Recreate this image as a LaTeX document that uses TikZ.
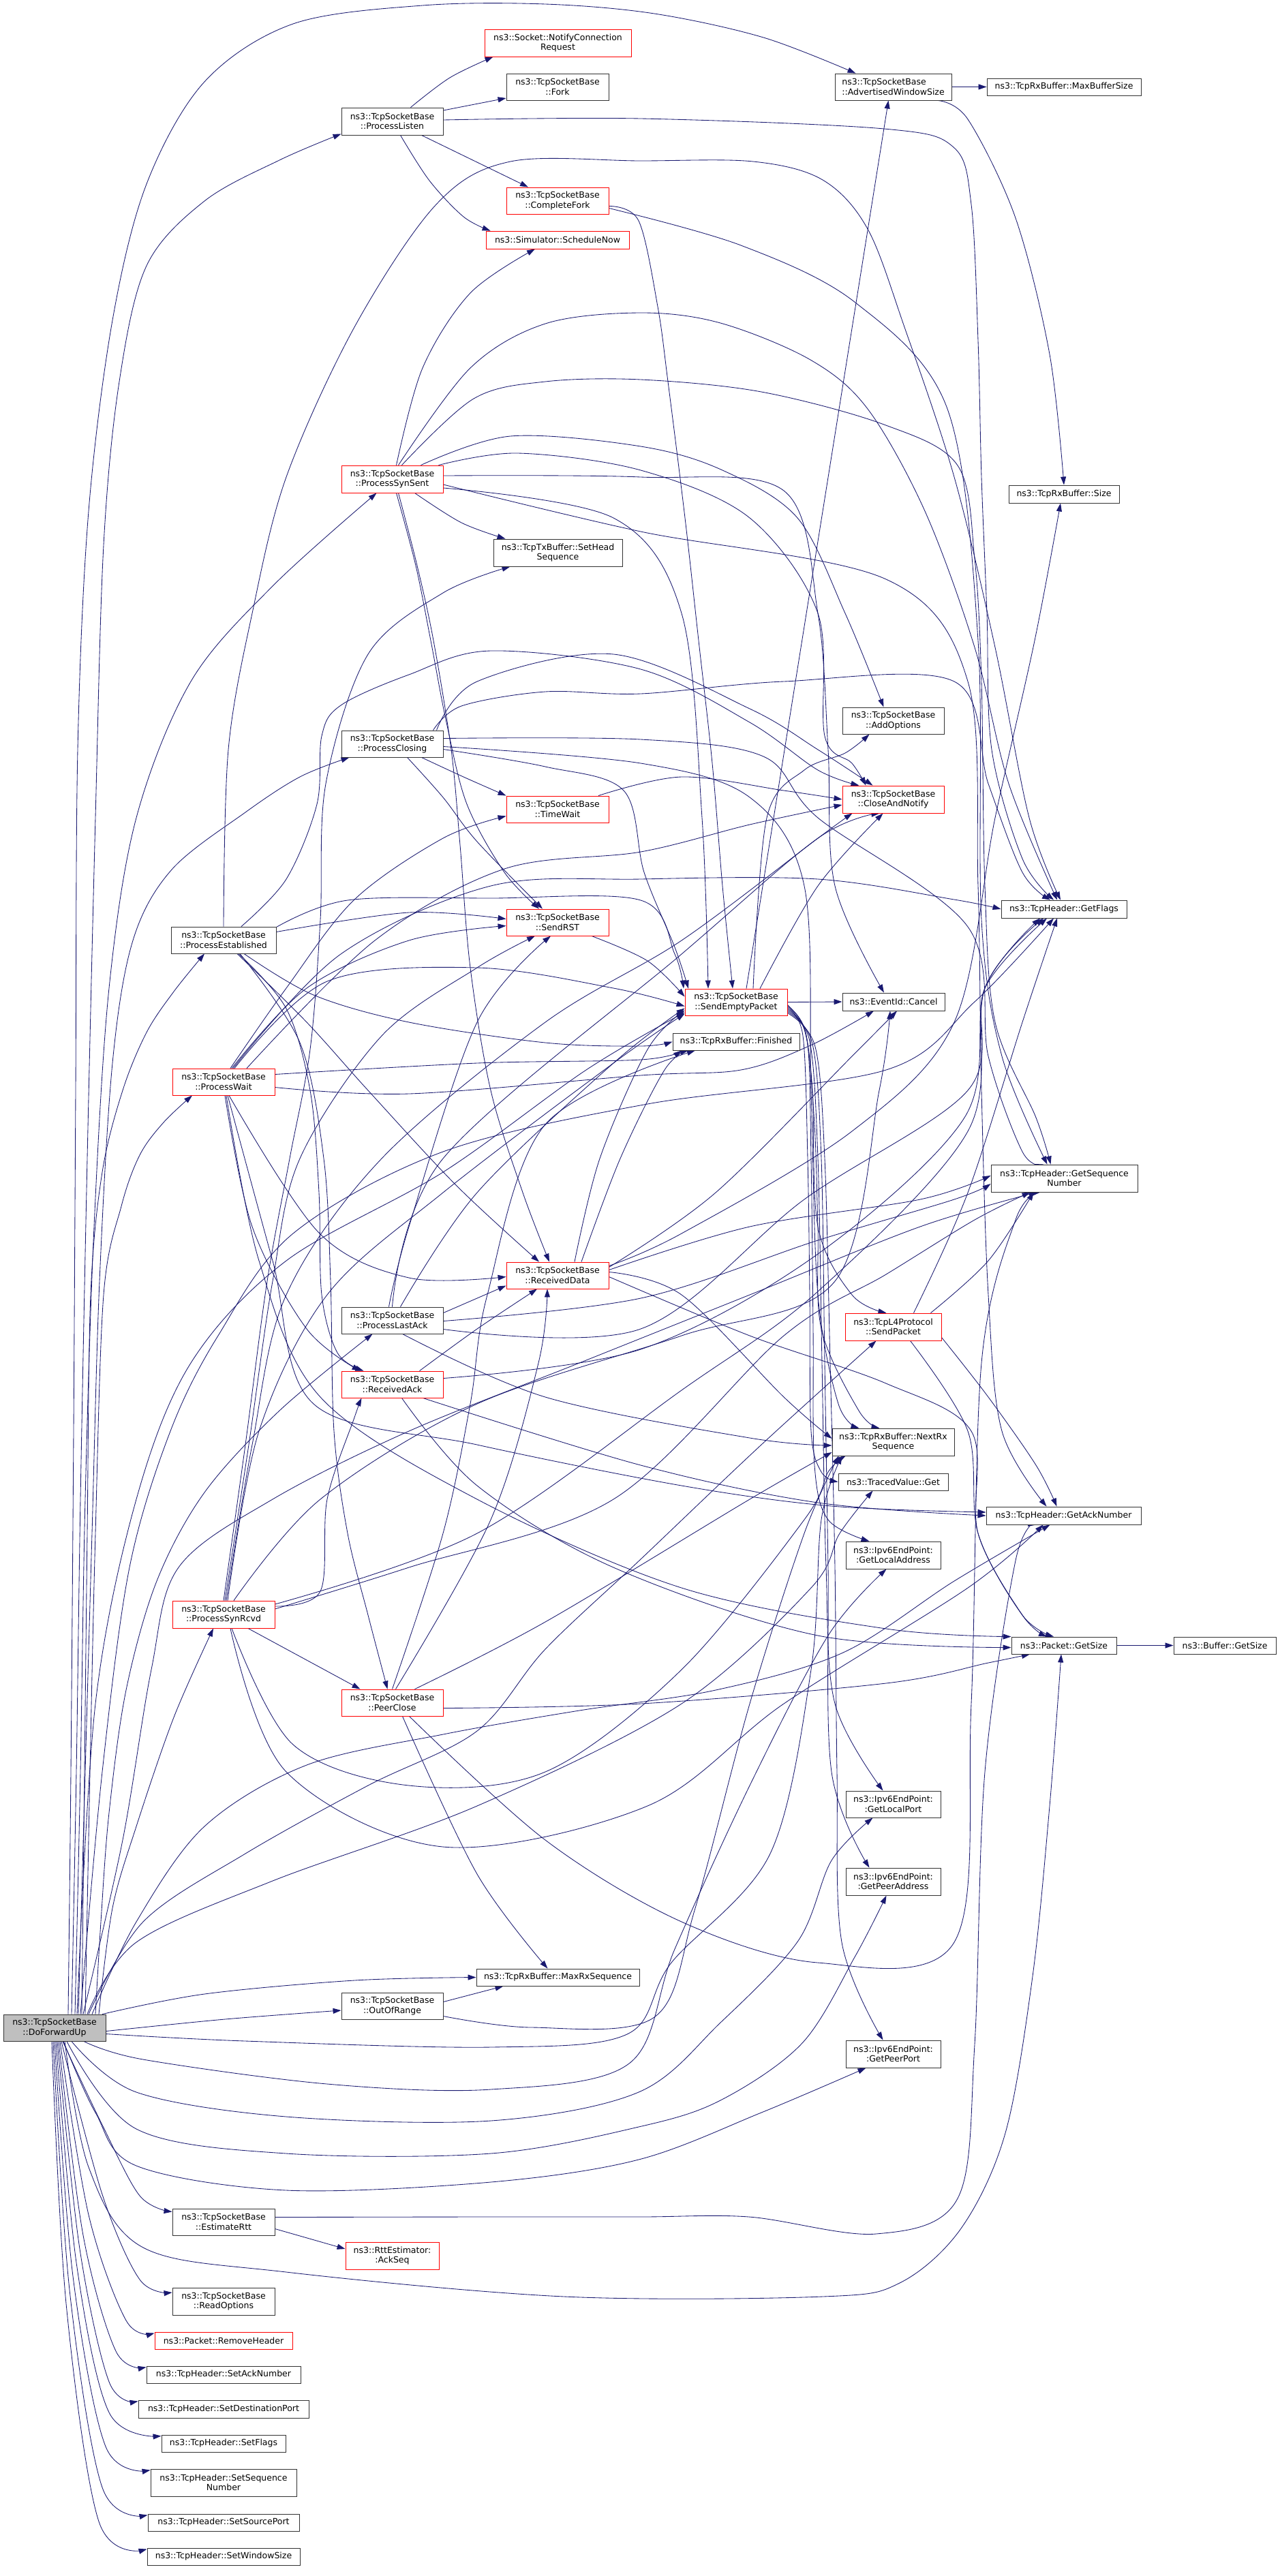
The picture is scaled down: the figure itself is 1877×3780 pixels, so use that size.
\documentclass[tikz,border=0pt]{standalone}
\usepackage{fontspec}
\setmainfont{DejaVu Sans}
\usetikzlibrary{arrows.meta}
\definecolor{edgeblue}{HTML}{191970}
\definecolor{nodegray}{HTML}{BFBFBF}
\pgfdeclarelayer{bgl}
\pgfsetlayers{bgl,main}
\newcommand\nodefnt{\fontsize{12.5}{14.5}\selectfont}
\tikzset{
  nb/.style={draw=black!80, line width=0.9pt, fill=white, inner sep=0pt, align=center, font=\nodefnt},
  nr/.style={nb, draw=red},
  ng/.style={nb, fill=nodegray},
  edg/.style={draw=edgeblue, line width=0.85pt, -{Triangle[length=12pt,width=8pt]}},
}
\newcommand\mk[7]{\node[#1, minimum width=#5pt, minimum height=#6pt] (#2) at (#3,#4) {#7};}
\newcommand\cedge[1]{\draw[edg] plot[smooth,tension=0.55] coordinates {#1};}
\begin{document}
\begin{tikzpicture}[x=1pt,y=-1pt]
\useasboundingbox (0,0) rectangle (1877,3780);
\mk{ng}{dfu}{80}{2975.5}{150}{39}{ns3::TcpSocketBase\\::DoForwardUp}
\mk{nb}{plisten}{575.5}{178}{149}{40}{ns3::TcpSocketBase\\::ProcessListen}
\mk{nr}{notify}{818.5}{63}{215}{40}{ns3::Socket::NotifyConnection\\Request}
\mk{nb}{fork}{818}{127.5}{150}{39}{ns3::TcpSocketBase\\::Fork}
\mk{nr}{cfork}{818}{294.5}{150}{39}{ns3::TcpSocketBase\\::CompleteFork}
\mk{nr}{sched}{818}{352}{210}{26}{ns3::Simulator::ScheduleNow}
\mk{nb,align=left}{aws}{1310.5}{127.5}{171}{39}{ns3::TcpSocketBase\\::AdvertisedWindowSize}
\mk{nb}{maxbuf}{1561}{127.5}{226}{25}{ns3::TcpRxBuffer::MaxBufferSize}
\mk{nr}{pss}{575.5}{703}{149}{40}{ns3::TcpSocketBase\\::ProcessSynSent}
\mk{nb}{sethead}{818.5}{811}{189}{40}{ns3::TcpTxBuffer::SetHead\\Sequence}
\mk{nb}{rxsize}{1561}{725}{162}{26}{ns3::TcpRxBuffer::Size}
\mk{nb}{pclosing}{575.5}{1091.5}{149}{39}{ns3::TcpSocketBase\\::ProcessClosing}
\mk{nr}{timewait}{818}{1187.5}{150}{39}{ns3::TcpSocketBase\\::TimeWait}
\mk{nb}{addopt}{1310.5}{1057.5}{149}{39}{ns3::TcpSocketBase\\::AddOptions}
\mk{nr}{cnotify}{1310.5}{1173}{149}{40}{ns3::TcpSocketBase\\::CloseAndNotify}
\mk{nb}{getflags}{1561}{1334}{184}{26}{ns3::TcpHeader::GetFlags}
\mk{nr}{sendrst}{818}{1353.5}{150}{39}{ns3::TcpSocketBase\\::SendRST}
\mk{nb}{pest}{328}{1379.5}{154}{39}{ns3::TcpSocketBase\\::ProcessEstablished}
\mk{nr}{sep}{1080}{1470.5}{150}{39}{ns3::TcpSocketBase\\::SendEmptyPacket}
\mk{nb}{cancel}{1311}{1470}{150}{26}{ns3::EventId::Cancel}
\mk{nb}{finished}{1080}{1528.5}{186}{25}{ns3::TcpRxBuffer::Finished}
\mk{nr}{pwait}{328}{1587.5}{150}{39}{ns3::TcpSocketBase\\::ProcessWait}
\mk{nb}{getseq}{1561.5}{1729}{215}{40}{ns3::TcpHeader::GetSequence\\Number}
\mk{nr}{rdata}{818}{1871.5}{150}{39}{ns3::TcpSocketBase\\::ReceivedData}
\mk{nb}{plastack}{575.5}{1937.5}{149}{39}{ns3::TcpSocketBase\\::ProcessLastAck}
\mk{nr}{l4send}{1310.5}{1947}{141}{40}{ns3::TcpL4Protocol\\::SendPacket}
\mk{nr}{rack}{575.5}{2031.5}{149}{39}{ns3::TcpSocketBase\\::ReceivedAck}
\mk{nb}{nextrx}{1310.5}{2116}{179}{40}{ns3::TcpRxBuffer::NextRx\\Sequence}
\mk{nb}{tvget}{1310.5}{2174.5}{161}{25}{ns3::TracedValue::Get}
\mk{nb}{getack}{1560.5}{2224}{227}{26}{ns3::TcpHeader::GetAckNumber}
\mk{nb}{glocaddr}{1310.5}{2282}{139}{40}{ns3::Ipv6EndPoint:\\:GetLocalAddress}
\mk{nr}{psynrcvd}{328}{2369}{150}{40}{ns3::TcpSocketBase\\::ProcessSynRcvd}
\mk{nb}{pgetsize}{1561}{2414.5}{154}{25}{ns3::Packet::GetSize}
\mk{nb}{bgetsize}{1797}{2414.5}{150}{25}{ns3::Buffer::GetSize}
\mk{nr}{peerclose}{575.5}{2498.5}{149}{39}{ns3::TcpSocketBase\\::PeerClose}
\mk{nb}{glocport}{1310.5}{2647.5}{139}{39}{ns3::Ipv6EndPoint:\\:GetLocalPort}
\mk{nb}{gpeeraddr}{1310.5}{2761}{139}{40}{ns3::Ipv6EndPoint:\\:GetPeerAddress}
\mk{nb}{maxrx}{818.5}{2901.5}{239}{25}{ns3::TcpRxBuffer::MaxRxSequence}
\mk{nb}{oor}{575.5}{2943.5}{149}{39}{ns3::TcpSocketBase\\::OutOfRange}
\mk{nb}{gpeerport}{1310.5}{3014}{139}{40}{ns3::Ipv6EndPoint:\\:GetPeerPort}
\mk{nb}{ertt}{328}{3260.5}{150}{39}{ns3::TcpSocketBase\\::EstimateRtt}
\mk{nr}{ackseq}{575.5}{3310}{137}{40}{ns3::RttEstimator:\\:AckSeq}
\mk{nb}{readopt}{328}{3377}{150}{40}{ns3::TcpSocketBase\\::ReadOptions}
\mk{nr}{rmhdr}{328}{3434.5}{202}{25}{ns3::Packet::RemoveHeader}
\mk{nb}{setack}{328}{3484.5}{226}{25}{ns3::TcpHeader::SetAckNumber}
\mk{nb}{setdst}{328}{3535}{250}{26}{ns3::TcpHeader::SetDestinationPort}
\mk{nb}{setflags}{328}{3585.5}{182}{25}{ns3::TcpHeader::SetFlags}
\mk{nb}{setseq}{328}{3643}{214}{40}{ns3::TcpHeader::SetSequence\\Number}
\mk{nb}{setsrc}{328}{3701.5}{222}{25}{ns3::TcpHeader::SetSourcePort}
\mk{nb}{setwin}{328}{3751.5}{224}{25}{ns3::TcpHeader::SetWindowSize}
\begin{pgfonlayer}{bgl}
% DoForwardUp
\cedge{([xshift=20pt]dfu.north) (104,2600) (108,2100) (111,1600) (114,1100) (130,750) (165,470) (215,270) (300,120) (430,35) (620,8) (800,6) (960,20) (1120,55) ([xshift=-55pt]aws.north)}
\cedge{([xshift=25pt]dfu.north) (112,2600) (118,2200) (128,1700) (140,1200) (152,800) (175,560) (215,390) (300,295) (410,235) ([yshift=2pt]plisten.south west)}
\cedge{([xshift=30pt]dfu.north) (118,2600) (125,2200) (138,1800) (160,1450) (200,1200) (280,1000) (400,860) ([xshift=-23pt]pss.south)}
\cedge{([xshift=35pt]dfu.north) (125,2600) (135,2250) (146,1880) (165,1560) (195,1380) (252,1276) (360,1192) (440,1140) ([xshift=-63pt]pclosing.south)}
\cedge{([xshift=40pt]dfu.north) (124,2600) (128,2250) (133,1900) (150,1720) (180,1600) (215,1515) (255,1455) ([xshift=-28pt]pest.south)}
\cedge{([xshift=45pt]dfu.north) (132,2600) (140,2250) (152,1900) (178,1770) (205,1695) (240,1647) ([xshift=-46pt]pwait.south)}
\cedge{([xshift=60pt]dfu.north) (148,2820) (160,2660) (185,2480) (230,2320) (300,2190) (410,2070) ([xshift=-29pt]plastack.south)}
\cedge{([xshift=65pt]dfu.north) (165,2800) (200,2680) (255,2520) ([xshift=-15pt]psynrcvd.south)}
\cedge{([xshift=70pt]dfu.north) (300,2926) (520,2906) (maxrx.west)}
\cedge{([yshift=-5pt]dfu.east) (330,2963) ([yshift=-6.5pt]oor.west)}
\cedge{([xshift=55pt]dfu.north) (200,2820) (300,2680) (450,2590) (650,2545) (850,2510) (1050,2480) (1237,2425) (1400,2320) ([xshift=-20pt]getack.south)}
\cedge{([xshift=50pt]dfu.north) (210,2820) (360,2720) (540,2620) (700,2540) (800,2420) (940,2288) (1117,2120) ([xshift=-25pt]l4send.south)}
\cedge{([xshift=48pt]dfu.north) (200,2850) (400,2760) (700,2650) (1000,2500) (1190,2330) (1232,2250) ([xshift=-30pt]tvget.south)}
\cedge{([xshift=42pt]dfu.north) (180,2700) (222,2450) (262,2300) (400,2200) (600,2100) (850,2000) (1100,1900) (1350,1800) ([xshift=-40pt]getseq.south)}
\cedge{([xshift=38pt]dfu.north) (150,2600) (190,2300) (250,2100) (320,1960) (430,1810) (650,1690) (950,1620) (1300,1570) (1430,1470) ([xshift=-15pt]getflags.south)}
\cedge{([xshift=33pt]dfu.north) (140,2500) (200,2200) (280,2000) (420,1850) (650,1720) (860,1570) ([yshift=-15pt]sep.west)}
\cedge{([yshift=-9pt]dfu.east) (360,2995) (720,3004) (920,2985) (985,2880) (1130,2720) (1190,2450) (1205,2230) ([xshift=-75pt]nextrx.south)}
\cedge{([xshift=43pt]dfu.south) (210,3022) (480,3058) (720,3066) (923,3028) (990,2860) (1100,2620) (1215,2400) ([xshift=-10pt]glocaddr.south)}
\cedge{([xshift=25pt]dfu.south) (200,3070) (420,3106) (720,3112) (937,3070) (1057,2968) (1171,2848) (1220,2730) ([xshift=-30pt]glocport.south)}
\cedge{([xshift=18pt]dfu.south) (200,3124) (420,3160) (720,3160) (937,3121) (1057,3082) (1177,2998) (1255,2870) ([xshift=-10pt]gpeeraddr.south)}
\cedge{([xshift=13pt]dfu.south) (140,3100) (200,3178) (420,3214) (720,3202) (937,3169) (1117,3100) ([xshift=-40pt]gpeerport.south)}
\cedge{([xshift=15pt]dfu.south) (130,3180) (210,3298) (420,3334) (828,3370) (1207,3370) (1320,3350) (1410,3270) (1475,3130) (1515,2900) (1540,2650) ([xshift=-4pt]pgetsize.south)}
\cedge{([xshift=12pt]dfu.south) (150,3118) (205,3222) ([yshift=15pt]ertt.west)}
\cedge{([xshift=10pt]dfu.south) (150,3220) (205,3345) ([yshift=13pt]readopt.west)}
\cedge{([xshift=8pt]dfu.south) (130,3250) (185,3405) ([yshift=-2pt]rmhdr.north west)}
\cedge{([xshift=6pt]dfu.south) (122,3280) (170,3450) ([yshift=-2pt]setack.north west)}
\cedge{([xshift=4pt]dfu.south) (117,3300) (160,3495) ([yshift=-2pt]setdst.north west)}
\cedge{([xshift=2pt]dfu.south) (112,3320) (160,3540) ([yshift=-2pt]setflags.north west)}
\cedge{(dfu.south) (107,3340) (155,3590) ([yshift=-2pt]setseq.north west)}
\cedge{([xshift=-2pt]dfu.south) (102,3360) (150,3650) ([yshift=-2pt]setsrc.north west)}
\cedge{([xshift=-4pt]dfu.south) (97,3380) (145,3700) ([yshift=-2pt]setwin.north west)}
% ProcessListen
\cedge{([xshift=27pt]plisten.north) (660,114) ([xshift=-95pt]notify.south)}
\draw[edg] ([yshift=16pt]plisten.east) -- ([yshift=-16.5pt]fork.west);
\cedge{([yshift=2pt]plisten.east) (940,174) (1297,189) (1399,216) (1425,300) (1435,500) (1440,700) (1448,900) (1455,1100) (1500,1260) ([xshift=-15pt]getflags.north)}
\draw[edg] ([xshift=43pt]plisten.south) -- ([xshift=-43pt]cfork.north);
\cedge{([xshift=12pt]plisten.south) (630,265) (680,318) ([xshift=7pt]sched.north west)}
% CompleteFork
\cedge{([yshift=-8pt]cfork.east) (937,324) (965,450) (980,560) (1005,760) (1025,940) (1045,1120) (1060,1300) ([xshift=-5pt]sep.north)}
\cedge{([yshift=-11pt]cfork.east) (1087,360) (1255,444) (1390,600) (1435,940) (1440,1350) (1470,1550) ([xshift=-25pt]getseq.north)}
% AdvertisedWindowSize
\draw[edg] (aws.east) -- (maxbuf.west);
\cedge{([xshift=65pt]aws.south) (1420,175) (1490,320) (1540,520) (rxsize.north)}
% ProcessSynSent
\cedge{([xshift=6pt]pss.north) (620,540) (690,430) ([xshift=-33pt]sched.south)}
\cedge{([xshift=9pt]pss.north) (690,540) (800,475) (940,459) (1057,474) (1189,528) (1273,600) (1357,750) (1430,950) (1480,1150) ([xshift=-10pt]getflags.north)}
\cedge{([xshift=14pt]pss.north) (695,585) (800,560) (940,557) (1117,575) (1297,623) (1405,683) (1430,820) (1440,1000) (1445,1300) (1460,1500) (1520,1640) ([xshift=-20pt]getseq.north)}
\cedge{([xshift=42pt]pss.north) (749,640) (940,655) (1060,690) (1170,760) (1240,900) ([xshift=-14pt]addopt.north)}
\cedge{([xshift=68pt]pss.north) (760,665) (940,690) (1100,760) (1200,900) (1210,1080) (1250,1120) ([xshift=-40pt]cnotify.north)}
\cedge{([yshift=5pt]pss.east) (940,700) (1150,720) (1200,900) (1215,1100) (1225,1300) ([xshift=-14pt]cancel.north)}
\cedge{([yshift=-13pt]pss.east) (900,760) (1000,900) (1030,1200) ([xshift=-41pt]sep.north)}
\cedge{([xshift=33pt]pss.south) (677,767) ([xshift=-77pt]sethead.north)}
\cedge{([xshift=6pt]pss.south) (610,830) (632,940) (655,1060) (685,1180) (740,1280) ([xshift=-27pt]sendrst.north)}
\cedge{([xshift=9pt]pss.south) (612,830) (636,940) (662,1100) (675,1240) (690,1420) (720,1600) (767,1750) ([xshift=-12pt]rdata.north)}
\cedge{([yshift=-8pt]pss.east) (940,780) (1300,850) (1420,1000) (1435,1300) (1440,1600) (1450,1900) (1470,2100) ([xshift=-25pt]getack.north)}
% ProcessClosing
\cedge{([xshift=60pt]pclosing.north) (677,1036) (800,1015) (940,1018) (1150,1000) (1400,1000) (1450,1150) (1500,1280) ([xshift=-20pt]getflags.north)}
\cedge{([yshift=8pt]pclosing.east) (940,1085) (1120,1110) (1200,1200) (1420,1360) (1450,1550) (1500,1690) ([xshift=-30pt]getseq.north)}
\cedge{([yshift=-4pt]pclosing.east) (940,1120) (1100,1170) (1180,1300) (1190,1600) (1200,1900) (1230,2060) ([xshift=-50pt]nextrx.north)}
\cedge{([xshift=65pt]pclosing.north) (700,1000) (900,960) (1100,1040) (1200,1100) ([xshift=-30pt]cnotify.north)}
\cedge{([yshift=-8pt]pclosing.east) (800,1125) (915,1160) (945,1280) (990,1390) ([xshift=-70pt]sep.north)}
\cedge{([xshift=43pt]pclosing.south) (680,1140) (timewait.north west)}
\cedge{([xshift=22pt]pclosing.south) (650,1170) (700,1235) ([xshift=-22pt]sendrst.north)}
% TimeWait, SendRST
\cedge{([xshift=60pt]timewait.north) (1000,1140) (1150,1160) (cnotify.west)}
\cedge{([xshift=50pt]sendrst.south) (950,1410) ([yshift=8pt]sep.west)}
% ProcessEstablished
\cedge{(pest.north) (335,1100) (370,900) (420,700) (520,480) (640,300) (749,237) (940,236) (1105,237) (1207,264) (1273,336) (1327,480) (1400,700) (1460,950) (1510,1200) ([xshift=-5pt]getflags.north)}
\cedge{([xshift=26pt]pest.north) (420,1290) (465,1180) (472,1080) (500,1035) (600,990) (720,955) (940,982) (1100,1060) (1200,1130) ([xshift=-50pt]cnotify.north)}
\cedge{([yshift=12pt]pest.east) (600,1339) ([yshift=5pt]sendrst.west)}
\cedge{([yshift=19pt]pest.east) (510,1321) (720,1318) (940,1321) (990,1400) ([xshift=-77pt]sep.north)}
\cedge{([xshift=20pt]pest.south) (450,1500) (540,1600) (670,1740) ([xshift=-27pt]rdata.north)}
\cedge{([xshift=22pt]pest.south) (420,1480) (455,1600) (468,1750) (472,1900) (495,1985) ([xshift=-42pt]rack.north)}
\cedge{([xshift=24pt]pest.south) (440,1530) (475,1700) (485,1880) (490,2100) (510,2250) (540,2370) ([xshift=-7pt]peerclose.north)}
\cedge{([xshift=30pt]pest.south) (460,1460) (600,1500) (800,1530) (940,1535) (finished.west)}
% ProcessWait
\cedge{([xshift=10pt]pwait.north) (420,1450) (520,1320) (650,1230) ([yshift=-10pt]timewait.west)}
\cedge{([xshift=12pt]pwait.north) (450,1450) (600,1380) ([yshift=-5pt]sendrst.west)}
\cedge{([xshift=34pt]pwait.north) (550,1380) (740,1275) (940,1250) (1100,1210) ([yshift=-8pt]cnotify.west)}
\cedge{([xshift=14pt]pwait.north) (500,1400) (720,1300) (940,1290) (1200,1290) (1400,1320) (getflags.west)}
\cedge{([xshift=16pt]pwait.north) (480,1440) (700,1420) (900,1450) ([yshift=-6pt]sep.west)}
\cedge{([yshift=11pt]pwait.east) (700,1560) (940,1555) ([xshift=-80pt]finished.south)}
\cedge{([yshift=-8pt]pwait.east) (600,1605) (940,1578) (1087,1570) (1189,1534) ([xshift=-29pt]cancel.south)}
\cedge{([xshift=2pt]pwait.south) (370,1800) (450,1950) ([xshift=-47pt]rack.north)}
\cedge{([xshift=8pt]pwait.south) (468,1809) (600,1875) ([yshift=-2pt]rdata.west)}
\cedge{([xshift=4pt]pwait.south) (380,1850) (470,2050) (700,2200) (1000,2330) (1300,2390) (pgetsize.north west)}
\cedge{([xshift=6pt]pwait.south) (400,1850) (460,2060) (700,2120) (1000,2180) (1220,2210) ([yshift=5pt]getack.west)}
% SendEmptyPacket
\draw[edg] ([xshift=15pt]sep.north) -- ([xshift=-7pt]aws.south);
\cedge{([xshift=25pt]sep.north) (1125,1200) (1180,1130) (1240,1105) ([xshift=-35pt]addopt.south)}
\cedge{([xshift=35pt]sep.north) (1200,1300) ([xshift=-15pt]cnotify.south)}
\draw[edg] (sep.east) -- (cancel.west);
\cedge{([yshift=-4pt]sep.east) (1180,1510) (1192,1600) (1200,1800) (1250,1900) ([xshift=-10pt]l4send.north)}
\cedge{([yshift=-6pt]sep.east) (1182,1515) (1195,1650) (1200,1800) (1205,1950) (1260,2070) ([xshift=-20pt]nextrx.north)}
\cedge{([yshift=-8pt]sep.east) (1178,1520) (1185,1700) (1188,1900) (1190,2100) (1205,2160) (tvget.west)}
\cedge{([yshift=-10pt]sep.east) (1184,1525) (1190,1700) (1193,1950) (1195,2150) (1215,2230) ([xshift=-35pt]glocaddr.north)}
\cedge{([yshift=-12pt]sep.east) (1188,1528) (1200,1700) (1206,2000) (1212,2300) (1225,2500) ([xshift=-15pt]glocport.north)}
\cedge{([yshift=-14pt]sep.east) (1192,1532) (1205,1700) (1210,2000) (1215,2300) (1220,2600) ([xshift=-35pt]gpeeraddr.north)}
\cedge{([yshift=-16pt]sep.east) (1196,1536) (1210,1700) (1218,2000) (1225,2300) (1228,2600) (1235,2850) ([xshift=-15pt]gpeerport.north)}
% ReceivedData
\cedge{([xshift=25pt]rdata.north) (880,1700) (950,1540) ([yshift=-12pt]sep.west)}
\cedge{([xshift=35pt]rdata.north) (910,1700) (975,1570) ([xshift=-70pt]finished.south)}
\cedge{([yshift=12pt]rdata.east) (1050,1750) (1250,1550) ([xshift=5pt]cancel.south)}
\cedge{([yshift=5pt]rdata.east) (1000,1900) (1150,2050) ([yshift=5pt]nextrx.west)}
\cedge{([yshift=8pt]rdata.east) (1100,1800) (1350,1760) ([yshift=4pt]getseq.west)}
\cedge{([yshift=-2pt]rdata.east) (1100,1960) (1300,2030) (1425,2100) (1435,2250) (1500,2370) ([xshift=-25pt]pgetsize.north)}
\cedge{([yshift=14pt]rdata.east) (1000,1810) (1250,1660) (1400,1500) (1460,1200) (1518,940) ([xshift=-5pt]rxsize.south)}
% ProcessLastAck
\cedge{([xshift=-5pt]plastack.north) (600,1800) (700,1500) ([xshift=-10pt]sendrst.south)}
\cedge{(plastack.north) (650,1700) (1000,1400) (1200,1230) ([xshift=-20pt]cnotify.south)}
\cedge{([xshift=12pt]plastack.north) (700,1750) (900,1560) ([yshift=-9pt]sep.west)}
\draw[edg] ([yshift=11pt]plastack.east) -- ([yshift=-15pt]rdata.west);
\cedge{([yshift=-1pt]plastack.east) (940,1905) (1200,1820) (1400,1760) ([yshift=-8pt]getseq.west)}
\cedge{([yshift=-13pt]plastack.east) (940,1950) (1180,1760) (1420,1600) (1445,1450) ([xshift=-25pt]getflags.south)}
\cedge{([xshift=15pt]plastack.south) (800,2050) (1100,2110) ([yshift=-5pt]nextrx.west)}
% ReceivedAck
\cedge{([xshift=40pt]rack.north) (700,1950) ([xshift=-30pt]rdata.south)}
\cedge{([yshift=9pt]rack.east) (940,1980) (1200,1840) (1415,1640) (1445,1450) ([xshift=-35pt]getflags.south)}
\cedge{([xshift=45pt]rack.south) (940,2150) (1200,2205) (getack.west)}
\cedge{([xshift=14pt]rack.south) (700,2180) (900,2300) (1200,2400) ([yshift=-3pt]pgetsize.west)}
% ProcessSynRcvd
\cedge{(psynrcvd.north) (360,2120) (392,1880) (425,1700) (455,1540) (470,1350) (478,1150) (540,960) (650,870) ([xshift=-70pt]sethead.south)}
\cedge{([xshift=2pt]psynrcvd.north) (365,2120) (400,1880) (440,1700) (560,1520) (700,1420) ([xshift=-33pt]sendrst.south)}
\cedge{([xshift=4pt]psynrcvd.north) (370,2120) (420,1900) (560,1700) (800,1500) (1000,1380) (1200,1230) ([xshift=-60pt]cnotify.south)}
\cedge{([xshift=6pt]psynrcvd.north) (380,2100) (480,1900) (650,1750) (900,1560) ([yshift=-17pt]sep.west)}
\cedge{([xshift=15pt]psynrcvd.north) (470,2200) (700,2060) (1000,1960) (1225,1880) (1290,1600) ([xshift=-5pt]cancel.south)}
\cedge{([yshift=12pt]psynrcvd.east) (470,2335) (480,2200) (520,2080) ([xshift=-45pt]rack.south)}
\cedge{([yshift=8pt]psynrcvd.east) (600,2300) (900,2200) (1150,1960) (1300,1870) (1430,1790) ([xshift=-50pt]getseq.south)}
\draw[edg] ([xshift=36pt]psynrcvd.south) -- ([xshift=-47pt]peerclose.north);
\cedge{([yshift=15pt]psynrcvd.east) (700,2250) (1000,2040) (1200,1895) (1420,1660) (1445,1450) ([xshift=-30pt]getflags.south)}
\cedge{([xshift=10pt]psynrcvd.south) (420,2600) (650,2710) (950,2650) (1150,2500) (1420,2330) ([xshift=-30pt]getack.south)}
\cedge{([xshift=12pt]psynrcvd.south) (430,2560) (600,2620) (800,2600) (1000,2450) (1180,2230) (1215,2160) ([xshift=-70pt]nextrx.south)}
% PeerClose
\cedge{([xshift=5pt]peerclose.north) (720,2230) (790,2000) ([xshift=-15pt]rdata.south)}
\cedge{(peerclose.north) (650,2250) (690,2060) (715,1900) (800,1650) ([xshift=-60pt]finished.south)}
\cedge{([xshift=33pt]peerclose.north) (800,2380) (1100,2200) ([yshift=-15pt]nextrx.west)}
\cedge{([yshift=-8pt]peerclose.east) (940,2500) (1300,2470) (1450,2440) ([xshift=-50pt]pgetsize.south)}
\cedge{([xshift=15pt]peerclose.south) (700,2750) ([xshift=-15pt]maxrx.north)}
\cedge{([xshift=25pt]peerclose.south) (800,2700) (1000,2820) (1200,2880) (1400,2850) (1425,2500) (1440,2000) (1490,1790) ([xshift=-35pt]getseq.south)}
% TcpL4Protocol::SendPacket
\cedge{([xshift=30pt]l4send.north) (1420,1750) (1500,1500) ([xshift=-10pt]getflags.south)}
\cedge{([xshift=55pt]l4send.north) (1450,1850) ([xshift=-45pt]getseq.south)}
\cedge{([yshift=5pt]l4send.south east) (1450,2050) (1520,2150) ([xshift=-10pt]getack.north)}
\cedge{([xshift=25pt]l4send.south) (1420,2100) (1435,2250) (1500,2370) ([xshift=-15pt]pgetsize.north)}
% OutOfRange
\draw[edg] ([yshift=6pt]oor.east) -- ([xshift=-80pt]maxrx.south);
\cedge{([yshift=-15pt]oor.east) (780,2975) (960,2960) (1020,2800) (1100,2500) (1180,2250) ([xshift=-80pt]nextrx.south)}
% EstimateRtt
\draw[edg] ([yshift=-10pt]ertt.east) -- ([yshift=10pt]ackseq.west);
\cedge{([yshift=7pt]ertt.east) (700,3253) (937,3253) (1099,3253) (1285,3278) (1405,3226) (1430,3000) (1445,2600) (1490,2290) ([xshift=-40pt]getack.south)}
% Packet::GetSize
\draw[edg] (pgetsize.east) -- (bgetsize.west);
\end{pgfonlayer}
\end{tikzpicture}
\end{document}
